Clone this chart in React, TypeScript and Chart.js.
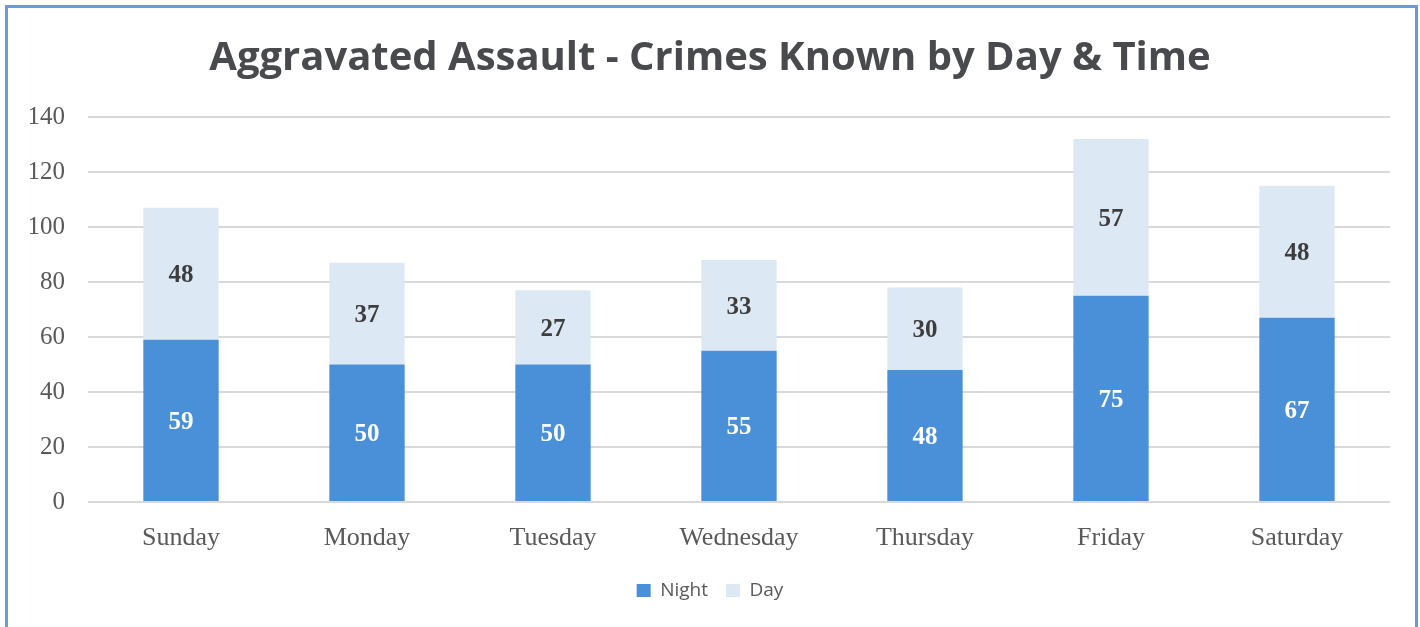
import React, { useEffect, useRef } from "react";
import { Chart, registerables } from "chart.js";

Chart.register(...registerables);

const days = ["Sunday", "Monday", "Tuesday", "Wednesday", "Thursday", "Friday", "Saturday"];
const nightValues = [59, 50, 50, 55, 48, 75, 67];
const dayValues = [48, 37, 27, 33, 30, 57, 48];
const seriesNames = ["Night", "Day"];
const titleText = "Aggravated Assault - Crimes Known by Day & Time";

const NIGHT_COLOR = "#4a90d9";
const DAY_COLOR = "#dde8f5";

const valueLabelPlugin = {
  id: "valueLabels",
  afterDatasetsDraw(chart: any) {
    const ctx = chart.ctx;
    ctx.save();
    ctx.font = "bold 25px 'Liberation Serif', 'Times New Roman', serif";
    ctx.textAlign = "center";
    ctx.textBaseline = "middle";
    chart.data.datasets.forEach((ds: any, di: number) => {
      const meta = chart.getDatasetMeta(di);
      if (meta.hidden) return;
      meta.data.forEach((bar: any, i: number) => {
        const v = ds.data[i];
        const y = (bar.y + bar.base) / 2;
        ctx.fillStyle = di === 0 ? "#ffffff" : "#3d3d3d";
        ctx.fillText(String(v), bar.x, y + 2);
      });
    });
    ctx.restore();
  },
};

export default function App() {
  const ref = useRef<HTMLCanvasElement | null>(null);
  useEffect(() => {
    if (!ref.current) return;
    const chart = new Chart(ref.current, {
      type: "bar",
      data: {
        labels: days,
        datasets: [
          { label: seriesNames[0], data: nightValues, backgroundColor: NIGHT_COLOR, stack: "s" },
          { label: seriesNames[1], data: dayValues, backgroundColor: DAY_COLOR, stack: "s" },
        ],
      },
      options: {
        animation: false,
        responsive: false,
        maintainAspectRatio: false,
        layout: { padding: { left: 30, right: 30, top: 0, bottom: 17 } },
        datasets: { bar: { categoryPercentage: 1, barPercentage: 0.405 } } as any,
        plugins: {
          tooltip: { enabled: false },
          title: {
            display: true,
            text: titleText,
            color: "#484a4d",
            font: { family: "'Open Sans', sans-serif", size: 40, weight: "bold", lineHeight: 1.2 },
            padding: { top: 35, bottom: 34 },
          },
          legend: {
            position: "bottom",
            labels: {
              color: "#595959",
              font: { family: "'Open Sans', sans-serif", size: 19 },
              boxWidth: 14,
              boxHeight: 13,
              padding: 18,
            },
          },
        },
        scales: {
          x: {
            stacked: true,
            grid: { display: false, drawTicks: false },
            border: { display: false },
            ticks: {
              color: "#595959",
              font: { family: "'Liberation Serif', 'Times New Roman', serif", size: 26 },
              padding: 21,
              maxRotation: 0,
            },
            afterFit(scale: any) {
              scale.height = 61;
            },
          },
          y: {
            stacked: true,
            min: 0,
            max: 140,
            grid: { color: "#d9d9d9", lineWidth: 2, drawTicks: false },
            border: { display: false },
            ticks: {
              stepSize: 20,
              color: "#595959",
              font: { family: "'Liberation Serif', 'Times New Roman', serif", size: 25 },
              padding: 23,
            },
            afterFit(scale: any) {
              scale.width = 58;
            },
          },
        },
      },
      plugins: [valueLabelPlugin],
    });
    return () => chart.destroy();
  }, []);
  return (
    <div style={{ position: "absolute", left: 0, top: 0, width: 1420, height: 627, overflow: "hidden", background: "#ffffff" }}>
      <div
        style={{
          position: "absolute",
          left: 5,
          top: 5,
          width: 1407,
          height: 660,
          border: "3px solid #6a9bd6",
          boxSizing: "content-box",
        }}
      />
      <canvas ref={ref} width={1420} height={627} style={{ position: "absolute", left: 0, top: 0 }} />
    </div>
  );
}
